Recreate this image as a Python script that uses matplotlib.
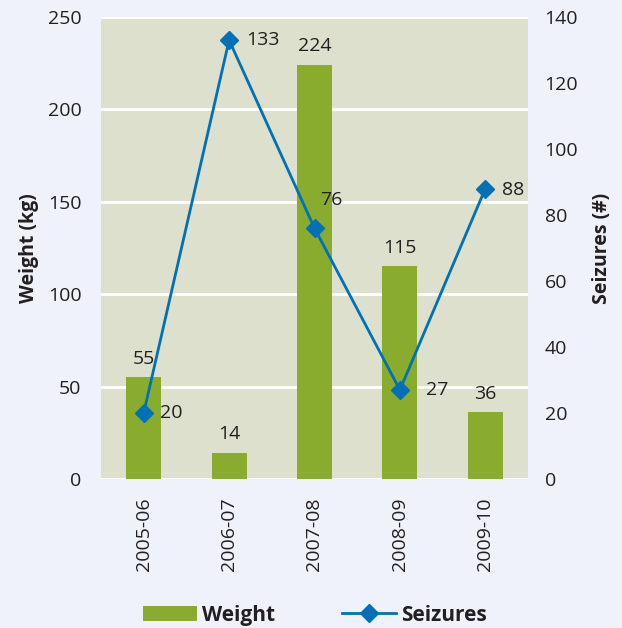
import matplotlib
matplotlib.use("Agg")
import matplotlib.pyplot as plt
from matplotlib.lines import Line2D
from matplotlib.patches import Patch

categories = ["2005-06", "2006-07", "2007-08", "2008-09", "2009-10"]
weight = [55, 14, 224, 115, 36]
seizures = [20, 133, 76, 27, 88]

plt.rcParams['font.family'] = ['Open Sans', 'DejaVu Sans']
TXT = "#231f20"
BG = "#eff2fa"
PLOT_BG = "#dce0cc"
GREEN = "#89ac2f"
BLUE = "#0071b6"
FS = 14

fig = plt.figure(figsize=(6.22, 6.28), dpi=100, facecolor=BG)
ax = fig.add_axes([101/622, 1-479/628, 427/622, 462/628])
ax.set_facecolor(PLOT_BG)
x = list(range(len(categories)))
ax.bar(x, weight, width=0.41, color=GREEN, zorder=2)
ax.set_xlim(-0.5, 4.5)
ax.set_ylim(0, 250)
ax.set_yticks([0, 50, 100, 150, 200, 250])
ax.yaxis.grid(True, color="white", linewidth=2, zorder=1)
ax.set_axisbelow(True)
for s in ax.spines.values():
    s.set_visible(False)
ax.tick_params(length=0, labelsize=FS, colors=TXT, pad=14)
ax.tick_params(axis='x', pad=13)
ax.set_xticks(x)
ax.set_xticklabels(categories, rotation=90)
ax.set_ylabel("Weight (kg)", fontsize=FS, fontweight="bold", color=TXT, labelpad=6)

for xi, w in zip(x, weight):
    ax.annotate(str(w), (xi, w), xytext=(0, 7), textcoords="offset points",
                ha="center", va="bottom", fontsize=FS, color=TXT, zorder=5)

ax2 = ax.twinx()
ax2.set_ylim(0, 140)
ax2.set_yticks(range(0, 141, 20))
for s in ax2.spines.values():
    s.set_visible(False)
ax2.tick_params(length=0, labelsize=FS, colors=TXT, pad=12)
ax2.plot(x, seizures, color=BLUE, linewidth=2, marker="D", markersize=9, zorder=4)
ax2.set_ylabel("Seizures (#)", fontsize=FS, fontweight="bold", color=TXT, labelpad=10)

offsets = [(12, 0), (12, 0), (4, 20), (19, 0), (12, -1)]
for xi, s, off in zip(x, seizures, offsets):
    ax2.annotate(str(s), (xi, s), xytext=off, textcoords="offset points",
                 ha="left", va="center", fontsize=FS, color=TXT)

handles = [Patch(facecolor=GREEN, edgecolor="none"),
           Line2D([0], [0], color=BLUE, linewidth=2, marker="D", markersize=9)]
leg = fig.legend(handles, ["Weight", "Seizures"], loc="lower center",
                 bbox_to_anchor=(0.506, -0.026), ncol=2, frameon=False,
                 prop={"size": 15, "weight": "bold"}, columnspacing=3.2,
                 handlelength=2.6, handleheight=0.75, handletextpad=0.25)
for t in leg.get_texts():
    t.set_color(TXT)

fig.savefig("out.png", dpi=100, facecolor=BG)
